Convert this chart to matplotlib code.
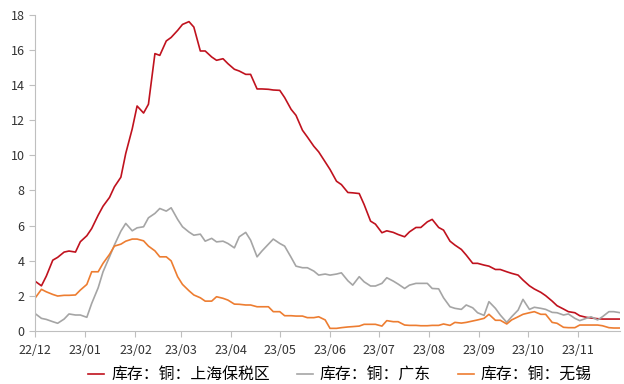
import matplotlib
matplotlib.use('Agg')
import matplotlib.pyplot as plt
import matplotlib.dates as mdates
import numpy as np
import pandas as pd

plt.rcParams['font.family'] = ['Noto Sans CJK SC', 'DejaVu Sans']

# twice-weekly observations (Mon / Thu), 2022-12-01 .. 2023-11-27
thu = pd.date_range('2022-12-01', '2023-11-30', freq='W-THU')
mon = pd.date_range('2022-12-05', '2023-11-27', freq='W-MON')
dates = thu.append(mon).sort_values()
dates = dates[dates <= pd.Timestamp('2023-11-27')]

shanghai = [2.84, 2.57, 3.12, 4.03, 4.19, 4.49, 4.55, 4.49, 5.08, 5.42,
            5.83, 6.59, 7.10, 7.60, 8.20, 8.75, 10.1, 11.5, 12.8, 12.4,
            12.9, 15.78, 15.68, 16.5, 16.7, 17.1, 17.44, 17.6, 17.29, 15.93,
            15.93, 15.59, 15.4, 15.49, 15.21, 14.89, 14.79, 14.6, 14.6, 13.77,
            13.77, 13.75, 13.71, 13.69, 13.28, 12.61, 12.27, 11.42, 11.04, 10.51,
            10.19, 9.62, 9.19, 8.52, 8.33, 7.88, 7.86, 7.82, 7.2, 6.25,
            6.08, 5.59, 5.70, 5.61, 5.49, 5.36, 5.64, 5.89, 5.89, 6.21,
            6.35, 5.89, 5.74, 5.11, 4.89, 4.64, 4.32, 3.85, 3.85, 3.75,
            3.69, 3.5, 3.5, 3.37, 3.28, 3.18, 2.9, 2.57, 2.39, 2.2,
            2.01, 1.70, 1.44, 1.25, 1.1, 1.04, 0.87, 0.78, 0.74, 0.7,
            0.68, 0.68, 0.68, 0.68]

guangdong = [1.0, 0.72, 0.66, 0.53, 0.44, 0.68, 0.97, 0.91, 0.91, 0.78,
             1.57, 2.46, 3.37, 4.22, 4.89, 5.68, 6.12, 5.70, 5.87, 5.93,
             6.44, 6.69, 6.97, 6.82, 7.01, 6.35, 5.93, 5.63, 5.45, 5.51,
             5.11, 5.27, 5.07, 5.11, 4.98, 4.73, 5.36, 5.61, 5.17, 4.22,
             4.55, 4.94, 5.23, 4.98, 4.83, 4.19, 3.69, 3.6, 3.6, 3.41,
             3.18, 3.24, 3.18, 3.24, 3.31, 2.86, 2.61, 3.09, 2.8, 2.56,
             2.56, 2.71, 3.03, 2.84, 2.67, 2.42, 2.61, 2.71, 2.71, 2.71,
             2.42, 2.4, 1.89, 1.38, 1.29, 1.23, 1.48, 1.32, 1.04, 0.89,
             1.67, 1.29, 0.91, 0.49, 0.81, 1.19, 1.8, 1.23, 1.35, 1.29,
             1.23, 1.06, 1.04, 0.91, 0.97, 0.72, 0.59, 0.72, 0.81, 0.63,
             0.81, 1.1, 1.1, 1.04]

wuxi = [1.86, 2.37, 2.23, 2.08, 1.99, 2.03, 2.03, 2.05, 2.33, 2.65,
        3.37, 3.37, 3.85, 4.36, 4.83, 4.94, 5.11, 5.23, 5.23, 5.13,
        4.83, 4.56, 4.22, 4.22, 3.99, 3.09, 2.65, 2.29, 2.05, 1.89,
        1.70, 1.70, 1.95, 1.86, 1.76, 1.53, 1.52, 1.48, 1.48, 1.38,
        1.38, 1.38, 1.10, 1.10, 0.87, 0.87, 0.85, 0.85, 0.76, 0.76,
        0.81, 0.63, 0.15, 0.15, 0.19, 0.23, 0.25, 0.28, 0.38, 0.38,
        0.38, 0.28, 0.59, 0.53, 0.53, 0.34, 0.32, 0.32, 0.30, 0.30,
        0.32, 0.32, 0.40, 0.32, 0.49, 0.45, 0.49, 0.57, 0.63, 0.72,
        0.95, 0.61, 0.61, 0.40, 0.63, 0.81, 0.95, 1.04, 1.10, 0.95,
        0.95, 0.49, 0.44, 0.21, 0.19, 0.19, 0.34, 0.34, 0.34, 0.34,
        0.30, 0.19, 0.17, 0.17]

labels = ['库存：铜：上海保税区', '库存：铜：广东', '库存：铜：无锡']
colors = ['#C0121E', '#A5A5A5', '#ED7D31']

fig = plt.figure(figsize=(6.24, 3.84), dpi=100)
ax = fig.add_axes([0.056, 0.138, 0.938, 0.824])

for ys, lab, c in zip([shanghai, guangdong, wuxi], labels, colors):
    ax.plot(dates, ys, color=c, linewidth=1.2, label=lab)

ax.set_ylim(0, 18)
ax.set_yticks(np.arange(0, 19, 2))
ax.set_xlim(dates[0], dates[-1])
ax.xaxis.set_major_locator(mdates.MonthLocator())
ax.xaxis.set_major_formatter(mdates.DateFormatter('%y/%m'))

for s in ['top', 'right']:
    ax.spines[s].set_visible(False)
for s in ['left', 'bottom']:
    ax.spines[s].set_color('#BFBFBF')
ax.tick_params(axis='both', colors='#BFBFBF', labelcolor='#333333', labelsize=9, length=4)
ax.tick_params(axis='x', pad=5)

fig.legend(loc='lower center', bbox_to_anchor=(0.545, -0.035), ncol=3, frameon=False,
           fontsize=11.4, handlelength=1.0, columnspacing=1.7, handletextpad=0.45)

fig.savefig('out.png', dpi=100)
